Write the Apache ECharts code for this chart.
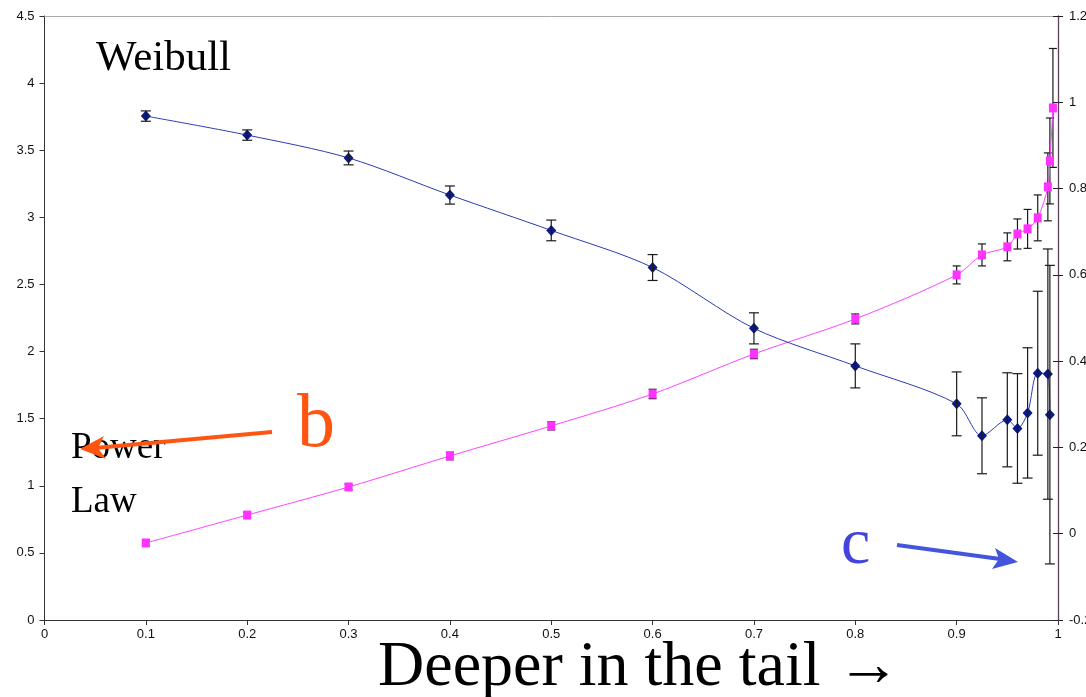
<!DOCTYPE html>
<html>
<head>
<meta charset="utf-8">
<script src="https://cdn.jsdelivr.net/npm/echarts@6/dist/echarts.min.js"></script>
<style>html,body{margin:0;padding:0;background:#fff;overflow:hidden}#c{width:1086px;height:697px}</style>
</head>
<body>
<div id="c"></div>
<script>
// x positions (depth in the tail)
const xs = [0.1, 0.2, 0.3, 0.4, 0.5, 0.6, 0.7, 0.8, 0.9, 0.925, 0.95, 0.96, 0.97, 0.98, 0.99, 0.992, 0.995];
// Power law b (left axis)
const powerVals = [0.574, 0.782, 0.991, 1.222, 1.446, 1.684, 1.982, 2.243, 2.571, 2.72, 2.78, 2.876, 2.914, 2.996, 3.227, 3.42, 3.815];
const powerErr  = [0.02, 0.02, 0.02, 0.028, 0.03, 0.035, 0.035, 0.037, 0.067, 0.082, 0.104, 0.112, 0.145, 0.171, 0.253, 0.32, 0.443];
// Weibull c (right axis)
const weibVals = [0.968, 0.924, 0.871, 0.785, 0.703, 0.617, 0.476, 0.389, 0.301, 0.227, 0.264, 0.244, 0.280, 0.372, 0.370, 0.276];
const weibErr  = [0.012, 0.012, 0.016, 0.021, 0.024, 0.030, 0.036, 0.051, 0.074, 0.088, 0.109, 0.127, 0.151, 0.190, 0.290, 0.346];
// tick settings
const xTicks = {min: 0, max: 1, interval: 0.1};
const leftTicks = {min: 0, max: 4.5, interval: 0.5};
const rightTicks = {min: -0.2, max: 1.2, interval: 0.2};

const powerData = xs.map((x, i) => [x, powerVals[i]]);
const weibData = weibVals.map((v, i) => [xs[i], v]);
const powerErrData = xs.map((x, i) => [x, powerVals[i] - powerErr[i], powerVals[i] + powerErr[i]]);
const weibErrData = weibVals.map((v, i) => [xs[i], v - weibErr[i], v + weibErr[i]]);

function errRender(capHalf) {
  return function (params, api) {
    const x = api.value(0);
    const lo = api.coord([x, api.value(1)]);
    const hi = api.coord([x, api.value(2)]);
    const st = {stroke: '#1a1a1a', lineWidth: 1.2};
    return {type: 'group', children: [
      {type: 'line', shape: {x1: hi[0], y1: hi[1], x2: lo[0], y2: lo[1]}, style: st},
      {type: 'line', shape: {x1: hi[0] - capHalf, y1: hi[1], x2: hi[0] + capHalf, y2: hi[1]}, style: st},
      {type: 'line', shape: {x1: lo[0] - capHalf, y1: lo[1], x2: lo[0] + capHalf, y2: lo[1]}, style: st}
    ]};
  };
}

const tickFont = {fontFamily: 'Liberation Sans, Arial, sans-serif', fontSize: 13, color: '#111'};
const serif = 'Liberation Serif, Times New Roman, serif';

const chart = echarts.init(document.getElementById('c'), null, {renderer: 'canvas', width: 1086, height: 697});
chart.setOption({
  animation: false,
  backgroundColor: '#fff',
  grid: {left: 44.5, right: 28, top: 16, bottom: 77, containLabel: false, outerBoundsMode: 'none'},
  xAxis: [
    {type: 'value', min: xTicks.min, max: xTicks.max, interval: xTicks.interval, position: 'bottom',
     axisLine: {show: true, onZero: false, lineStyle: {color: '#333', width: 1}},
     axisTick: {show: true, inside: false, length: 5, lineStyle: {color: '#333'}},
     axisLabel: Object.assign({margin: 8, formatter: v => String(Math.round(v * 10) / 10)}, tickFont),
     splitLine: {show: false}},
    {type: 'value', min: xTicks.min, max: xTicks.max, position: 'top',
     axisLine: {show: true, onZero: false, lineStyle: {color: '#aaa', width: 1}},
     axisTick: {show: false}, axisLabel: {show: false}, splitLine: {show: false}}
  ],
  yAxis: [
    {type: 'value', min: leftTicks.min, max: leftTicks.max, interval: leftTicks.interval, position: 'left',
     axisLine: {show: true, onZero: false, lineStyle: {color: '#333', width: 1}},
     axisTick: {show: true, inside: false, length: 5, lineStyle: {color: '#333'}},
     axisLabel: Object.assign({margin: 10}, tickFont),
     splitLine: {show: false}},
    {type: 'value', min: rightTicks.min, max: rightTicks.max, interval: rightTicks.interval, position: 'right',
     axisLine: {show: true, onZero: false, lineStyle: {color: '#5e3f5e', width: 1.3}},
     axisTick: {show: true, inside: false, length: 5, lineStyle: {color: '#222'}},
     axisLabel: Object.assign({margin: 11, formatter: v => String(Math.round(v * 10) / 10)}, tickFont),
     splitLine: {show: false}},
    {type: 'value', min: rightTicks.min, max: rightTicks.max, interval: rightTicks.interval, position: 'right',
     axisLine: {show: false, onZero: false},
     axisTick: {show: true, inside: true, length: 5, lineStyle: {color: '#222'}},
     axisLabel: {show: false}, splitLine: {show: false}}
  ],
  graphic: [
    {type: 'text', left: 96, top: 37, style: {text: 'Weibull', font: '43px ' + serif, fill: '#000'}},
    {type: 'text', left: 71, top: 430, style: {text: 'Power', font: '37px ' + serif, fill: '#000'}},
    {type: 'text', left: 71, top: 484, style: {text: 'Law', font: '37px ' + serif, fill: '#000'}},
    {type: 'text', left: 297, top: 388, style: {text: 'b', font: '76px ' + serif, fill: '#ff5511'}},
    {type: 'text', left: 841, top: 513, style: {text: 'c', font: '66px ' + serif, fill: '#4444dd'}},
    {type: 'text', left: 378, top: 636, style: {text: 'Deeper in the tail \u2192', font: '64px ' + serif, fill: '#000'}},
    {type: 'line', shape: {x1: 272, y1: 432, x2: 95, y2: 448}, style: {stroke: '#ff5511', lineWidth: 4}},
    {type: 'polygon', shape: {points: [[80, 449], [104, 436], [98, 448], [106, 459]]}, style: {fill: '#ff5511'}},
    {type: 'line', shape: {x1: 897, y1: 545, x2: 1000, y2: 559}, style: {stroke: '#4455dd', lineWidth: 4}},
    {type: 'polygon', shape: {points: [[1018, 562], [992, 569], [999, 559], [995, 548]]}, style: {fill: '#4455dd'}}
  ],
  series: [
    {type: 'line', name: 'Power law', xAxisIndex: 0, yAxisIndex: 0, data: powerData, smooth: 0.3,
     symbol: 'rect', symbolSize: [8, 9], lineStyle: {color: '#ff44ff', width: 1},
     itemStyle: {color: '#ff33ff'}, z: 3},
    {type: 'line', name: 'Weibull', xAxisIndex: 0, yAxisIndex: 1, data: weibData, smooth: 0.3,
     symbol: 'diamond', symbolSize: [10, 11], lineStyle: {color: '#2a3cb0', width: 1},
     itemStyle: {color: '#0b1a85'}, z: 3},
    {type: 'custom', xAxisIndex: 0, yAxisIndex: 0, data: powerErrData, renderItem: errRender(4),
     encode: {x: 0, y: [1, 2]}, z: 2},
    {type: 'custom', xAxisIndex: 0, yAxisIndex: 1, data: weibErrData, renderItem: errRender(5),
     encode: {x: 0, y: [1, 2]}, z: 4}
  ]
});
</script>
</body>
</html>
